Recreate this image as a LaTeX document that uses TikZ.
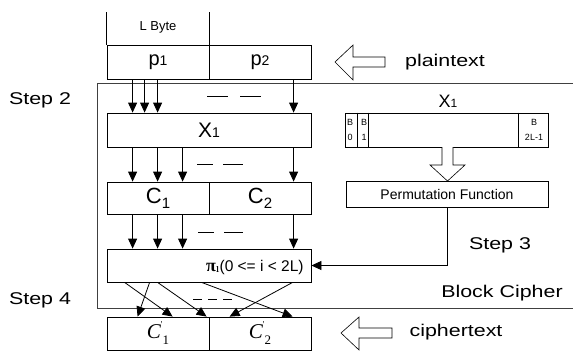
\documentclass[tikz,border=0pt]{standalone}
\usepackage{fontspec}
\usepackage{graphicx}
\setmainfont{Liberation Sans}
\newfontfamily\tnr{Liberation Serif}
\usetikzlibrary{arrows.meta}
\newcommand\myfs[1]{\fontsize{#1}{#1}\selectfont}
\newcommand\wide[1]{\scalebox{1.26}[1]{#1}}
\begin{document}
\begin{tikzpicture}[x=1pt,y=-1pt, line width=0.8pt,
  cell/.style={draw, minimum width=102pt, minimum height=34pt, inner sep=0pt, anchor=center},
  lbl/.style={inner sep=0pt, font=\myfs{17}},
  arr/.style={-{Triangle[length=10pt,width=9pt]}},
  hollow/.style={draw, fill=white, line width=0.6pt, line join=miter},
]
\useasboundingbox (0,0) rectangle (573,351);
\fill[white] (0,0) rectangle (573,351);

% block cipher frame
\draw[black!75] (573,83) -- (97,83) -- (97,308) -- (573,308);

% plaintext blocks
\node[cell] (p1) at (158,62) {\myfs{20}p\myfs{14}1};
\node[cell] (p2) at (260,62) {\myfs{20}p\myfs{14}2};
\draw (p1.north west) -- ++(0,-33);
\draw (p1.north east) -- ++(0,-33);
\node[inner sep=0pt, font=\myfs{13}] (lbyte) at (158,27) {L Byte};

% X1
\node[cell, minimum width=204pt] (x1) at (209,130) {\myfs{21}X\myfs{14}1};

% C1 C2
\node[cell, minimum height=32pt] (c1) at (158,198) {\myfs{22}C\raisebox{-5pt}{\myfs{15}1}};
\node[cell, minimum height=32pt] (c2) at (260,198) {\myfs{22}C\raisebox{-5pt}{\myfs{15}2}};

% pi box
\node[cell, minimum width=204pt, minimum height=33pt] (pi) at (209,265.5) {};
\node[anchor=east, inner sep=0pt] (pitxt) at (304,267) {\myfs{15.5}{\tnr\bfseries\myfs{18}π}\raisebox{-1pt}{\tnr\myfs{13}ı}(0 <= i < 2L)};

% C' boxes
\node[cell, minimum height=33pt] (c1p) at (158,333.5) {{\tnr\itshape\myfs{21}C}\raisebox{11pt}{\tnr\myfs{9}'}\raisebox{-6pt}{\tnr\myfs{13}1}};
\node[cell, minimum height=33pt] (c2p) at (260,333.5) {{\tnr\itshape\myfs{21}C}\raisebox{11pt}{\tnr\myfs{9}'}\raisebox{-6pt}{\tnr\myfs{13}2}};

% arrows p -> X1
\foreach \d in {26,38,51}
  \draw[arr] ([xshift=\d]p1.south west) -- ([xshift=\d]x1.north west);
\draw[arr] ([xshift=85]p2.south west) -- ([xshift=187]x1.north west);
\draw (207,96) -- (228,96) (240,96) -- (261,96);

% arrows X1 -> C
\foreach \d in {26,51,76}
  \draw[arr] ([xshift=\d]x1.south west) -- ([xshift=\d]c1.north west);
\draw[arr] ([xshift=187]x1.south west) -- ([xshift=85]c2.north west);
\draw (197,164) -- (213,164) (223,164) -- (243,164);

% arrows C -> pi
\foreach \d in {26,51,76}
  \draw[arr] ([xshift=\d]c1.south west) -- ([xshift=\d]pi.north west);
\draw[arr] ([xshift=85]c2.south west) -- ([xshift=187]pi.north west);
\draw (198,232) -- (214,232) (224,232) -- (243,232);

% permutation crossing arrows
\draw[arr] ([xshift=18]pi.south west) -- ([xshift=66]c1p.north west);
\draw[arr] ([xshift=43]pi.south west) -- ([xshift=31]c1p.north west);
\draw[arr] ([xshift=51]pi.south west) -- ([xshift=100]c1p.north west);
\draw[arr] ([xshift=95]pi.south west) -- ([xshift=84]c2p.north west);
\draw[arr] ([xshift=186]pi.south west) -- ([xshift=21]c2p.north west);
\draw[dash pattern=on 9pt off 6pt] (193,299) -- (233,299);

% right side: X1 byte layout
\node[inner sep=0pt, font=\myfs{18}] (x1r) at (448,101) {X\myfs{12}1};
\node[draw, minimum width=203pt, minimum height=34pt, inner sep=0pt] (bb) at (446.5,130) {};
\foreach \d in {13,24,174}
  \draw ([xshift=\d]bb.north west) -- ([xshift=\d]bb.south west);
\node[inner sep=0pt, font=\myfs{9}] (b0a) at (350,122) {B};
\node[inner sep=0pt, font=\myfs{9}] (b0b) at (350,137) {0};
\node[inner sep=0pt, font=\myfs{9}] (b1a) at (364,122) {B};
\node[inner sep=0pt, font=\myfs{9}] (b1b) at (364,137) {1};
\node[inner sep=0pt, font=\myfs{9}] (bna) at (534,122) {B};
\node[inner sep=0pt, font=\myfs{9}] (bnb) at (534,137) {2L-1};

% hollow down arrow
\draw[hollow] (442,147) -- (442,165) -- (430,165) -- (447.5,181) -- (465,165) -- (453,165) -- (453,147);

% permutation function
\node[draw, minimum width=202pt, minimum height=26pt, inner sep=0pt, font=\myfs{14}] (perm) at (447,194) {Permutation Function};
\draw[arr] (perm.south) |- (pi.east);

% hollow left arrows
\draw[hollow] (385,57) -- (353,57) -- (353,45) -- (335,62) -- (353,80) -- (353,67) -- (385,67) -- cycle;
\draw[hollow] (392,328) -- (359,328) -- (359,317) -- (341,333) -- (359,350) -- (359,338) -- (392,338) -- cycle;

% labels
\node[lbl] (plain) at (445,62) {\wide{plaintext}};
\node[lbl] (cipher) at (456,332) {\wide{ciphertext}};
\node[lbl] (bc) at (502,293) {\wide{Block Cipher}};
\node[lbl] (s2) at (40,100) {\wide{Step 2}};
\node[lbl] (s3) at (500,245) {\wide{Step 3}};
\node[lbl] (s4) at (40,300) {\wide{Step 4}};
\end{tikzpicture}
\end{document}
